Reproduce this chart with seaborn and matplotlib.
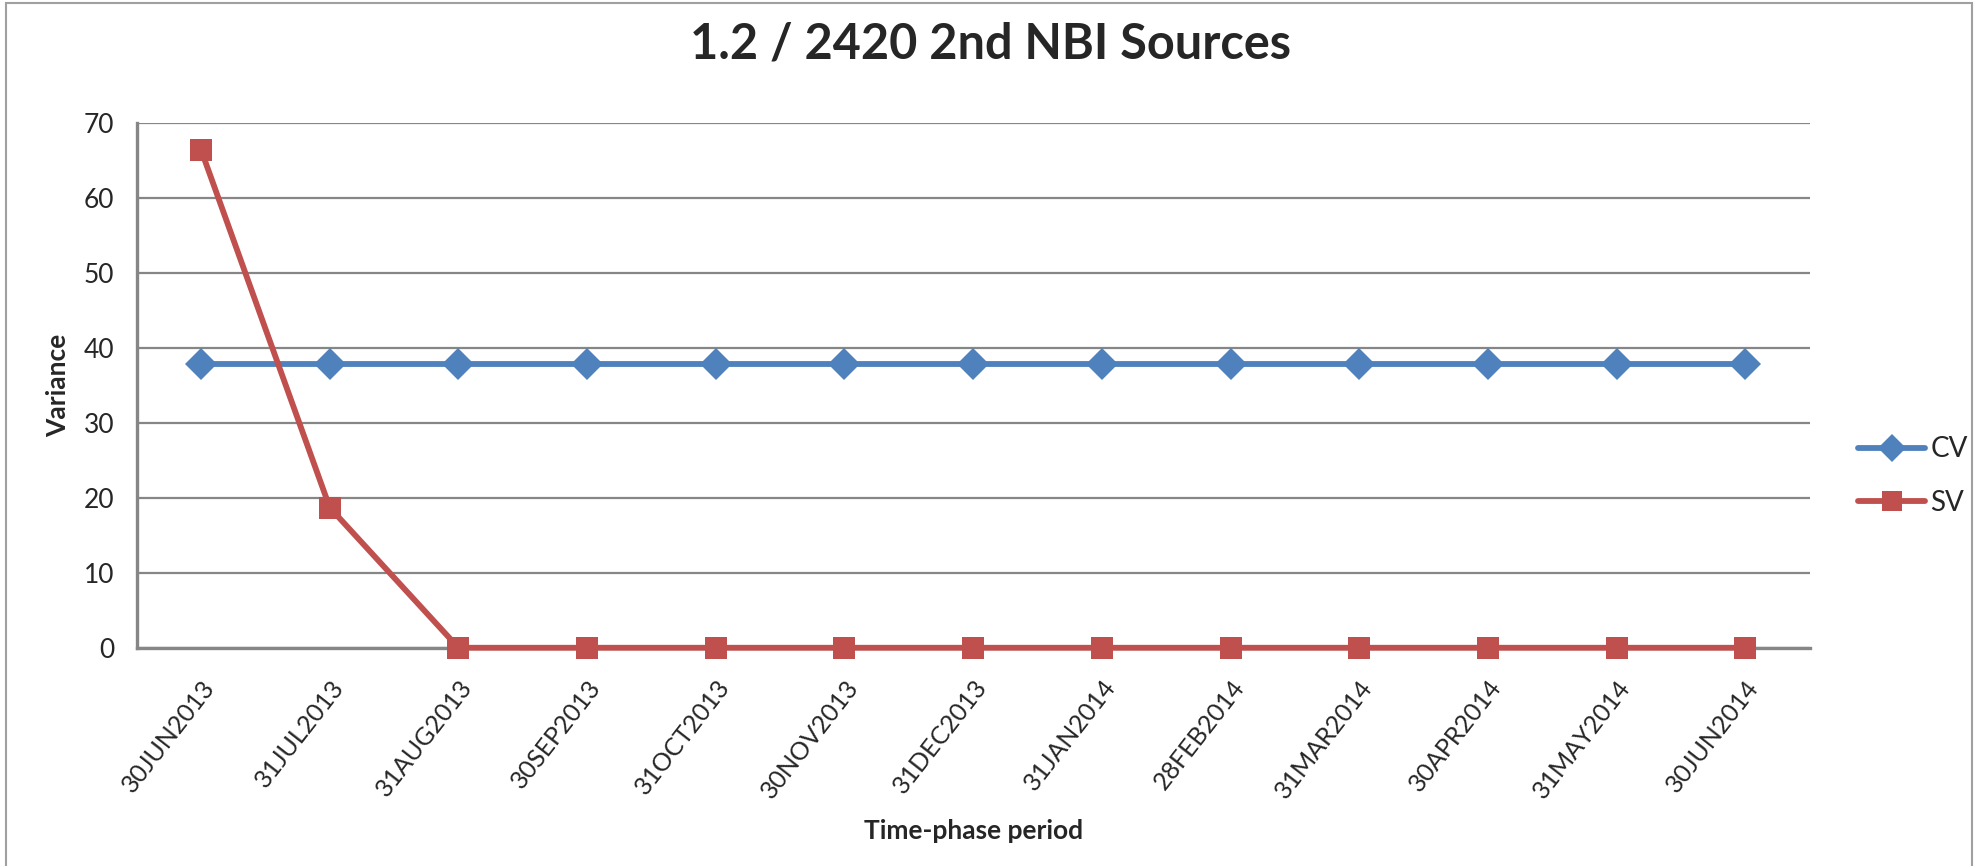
import pandas as pd
import numpy as np
import matplotlib
matplotlib.use("Agg")
import matplotlib.pyplot as plt
from matplotlib.patches import Rectangle
from matplotlib.lines import Line2D
from matplotlib.ticker import FixedLocator
import seaborn as sns

# data
periods = ['30JUN2013', '31JUL2013', '31AUG2013', '30SEP2013', '31OCT2013',
           '30NOV2013', '31DEC2013', '31JAN2014', '28FEB2014', '31MAR2014',
           '30APR2014', '31MAY2014', '30JUN2014']
cv = [37.9] * 13
sv = [66.4, 18.7, 0, 0, 0, 0, 0, 0, 0, 0, 0, 0, 0]

sns.set_style("white")
plt.rcParams['font.family'] = ['Lato', 'DejaVu Sans']

df = pd.DataFrame({
    'pos': list(range(len(periods))) * 2,
    'value': cv + sv,
    'series': ['CV'] * len(cv) + ['SV'] * len(sv),
})

fig = plt.figure(figsize=(19.82, 8.66), dpi=100)
ax = fig.add_axes([0.069, 0.252, 0.844, 0.606])

colors = {'CV': '#4F81BD', 'SV': '#C0504D'}
sns.lineplot(data=df, x='pos', y='value', hue='series', style='series',
             palette=colors, markers={'CV': 'D', 'SV': 's'}, dashes=False,
             linewidth=4.2, markersize=16, markeredgewidth=0, ax=ax, legend=False)
for ln in ax.lines:
    ln.set_clip_on(False)
    ln.set_zorder(5)

# grid + axes like Excel
ax.set_ylim(0, 70)
ax.set_xlim(-0.5, len(periods) - 0.5)
ax.set_yticks(range(0, 71, 10))
ax.yaxis.grid(True, color='#868686', linewidth=1.6)
ax.set_axisbelow(True)
for s in ['top', 'right']:
    ax.spines[s].set_visible(False)
for s in ['left', 'bottom']:
    ax.spines[s].set_color('#868686')
    ax.spines[s].set_linewidth(2.4)

ax.set_xticks(range(len(periods)))
ax.set_xticklabels(periods, rotation=52, ha='right', rotation_mode='anchor', fontsize=18)
ax.tick_params(axis='x', which='major', length=0, pad=20)
ax.xaxis.set_minor_locator(FixedLocator(np.arange(0.5, len(periods), 1.0)))
ax.tick_params(axis='x', which='minor', direction='in', length=10, width=1.6, color='#868686')
ax.tick_params(axis='y', direction='out', length=8, width=1.6, color='#868686', labelsize=19, pad=8)

ax.set_xlabel('Time-phase period', fontsize=19, fontweight='bold', labelpad=12)
ax.set_ylabel('Variance', fontsize=19, fontweight='bold', labelpad=10)

fig.suptitle('1.2 / 2420 2nd NBI Sources', fontsize=35, fontweight='bold', y=0.975)

# legend on the right
handles = [Line2D([], [], color=colors['CV'], marker='D', markersize=14, linewidth=4.2, markeredgewidth=0),
           Line2D([], [], color=colors['SV'], marker='s', markersize=14, linewidth=4.2, markeredgewidth=0)]
fig.legend(handles, ['CV', 'SV'], loc='center left', bbox_to_anchor=(0.925, 0.45),
           frameon=False, fontsize=20, handlelength=2.4, handletextpad=0.2, labelspacing=1.0)

# chart area border
fig.patches.append(Rectangle((0.003, -0.01), 0.992, 1.007, transform=fig.transFigure,
                             fill=False, edgecolor='#A0A0A0', linewidth=1.5))

fig.savefig('out.png', dpi=100)
